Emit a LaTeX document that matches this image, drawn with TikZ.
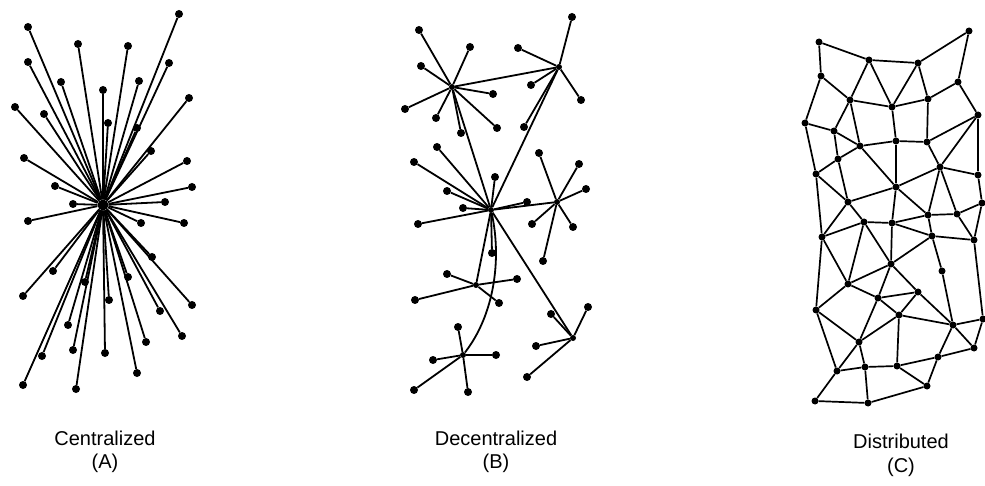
\documentclass[tikz,border=0pt]{standalone}
\usepackage{fontspec}
\setmainfont{Liberation Sans}
\begin{document}
\begin{tikzpicture}[x=1pt,y=-1pt,
  dot/.style={circle,fill=black,inner sep=0pt,minimum size=8pt},
  sdot/.style={circle,fill=black,inner sep=0pt,minimum size=7pt},
  hub/.style={circle,fill=black,inner sep=0pt,minimum size=6pt},
  edge/.style={line width=1.8pt,black},
  lab/.style={font=\fontsize{20}{22}\selectfont,inner sep=0pt}]
\useasboundingbox (0,0) rectangle (985,486);
% ---------- Panel A ----------
\node[circle,fill=black,inner sep=0pt,minimum size=11pt] (A0) at (103,205) {};
\foreach \n/\x/\y in {a1/179/14,a2/28/27,a3/78/44,a4/128/46,a5/28/62,a6/169/63,a7/61/82,a8/139/81,a9/103/90,a10/189/98,
 a11/15/107,a12/44/114,a13/108/123,a14/137/128,a15/151/151,a16/24/158,a17/187/161,a18/55/186,a19/192/187,a20/73/204,
 a21/165/202,a22/28/221,a23/141/223,a24/184/223,a25/152/257,a26/53/271,a27/128/277,a28/85/282,a29/23/296,a30/109/300,
 a31/160/311,a32/192/305,a33/68/325,a34/182/336,a35/73/350,a36/146/342,a37/105/353,a38/42/356,a39/137/373,a40/23/385,a41/76/389}
 {\node[dot] (\n) at (\x,\y) {}; \draw[edge] (A0) -- (\n);}
% ---------- Panel B ----------
\foreach \n/\x/\y in {H1/452/87,H2/559/67,H3/491/210,H4/557/202,H5/476/285,H6/573/338,H7/463/355}
 {\node[hub] (\n) at (\x,\y) {};}
\draw[edge] (H1) -- (H2);
\draw[edge] (H1) -- (H3);
\draw[edge] (H2) -- (H3);
\draw[edge] (H3) -- (H4);
\draw[edge] (H3) -- (H5);
\draw[edge] (H3) -- (H6);
\draw[edge] (H3) .. controls (502,260) and (494,315) .. (H7);
\foreach \h/\n/\x/\y in {H1/b11/419/30,H1/b12/470/47,H1/b13/421/66,H1/b14/493/94,H1/b15/405/109,H1/b16/436/118,H1/b17/497/128,H1/b18/461/133,
 H2/b21/572/17,H2/b22/518/48,H2/b23/531/85,H2/b24/581/100,H2/b25/524/127,
 H3/b31/437/147,H3/b32/414/162,H3/b33/495/177,H3/b34/447/191,H3/b35/463/208,H3/b36/418/224,H3/b37/492/253,H3/b38/527/202,
 H4/b41/539/153,H4/b42/579/164,H4/b43/586/189,H4/b44/532/224,H4/b45/573/227,H4/b46/543/261,
 H5/b51/447/274,H5/b52/517/279,H5/b53/415/300,H5/b54/499/303,
 H6/b61/588/307,H6/b62/551/314,H6/b63/536/346,H6/b64/527/377,
 H7/b71/458/327,H7/b72/433/360,H7/b73/496/355,H7/b74/414/390,H7/b75/468/392}
 {\node[dot] (\n) at (\x,\y) {}; \draw[edge] (\h) -- (\n);}
% ---------- Panel C ----------
\foreach \n/\x/\y in {c1/819/42,c2/969/31,c3/869/60,c4/918/63,c5/821/76,c6/958/82,c7/850/100,c8/928/99,c9/892/107,c10/978/115,
 c11/805/123,c12/834/131,c13/860/146,c14/896/141,c15/927/142,c16/838/159,c17/940/167,c18/816/174,c19/978/175,c20/896/187,
 c21/848/202,c22/982/203,c23/928/215,c24/957/214,c25/864/222,c26/892/223,c27/822/237,c28/932/236,c29/974/240,c30/891/264,
 c31/942/271,c32/848/284,c33/918/292,c34/878/298,c35/816/310,c36/899/315,c37/953/325,c38/859/342,c39/974/348,c40/938/357,
 c41/837/371,c42/865/367,c43/897/366,c44/927/386,c45/815/401,c46/868/403,c47/983/319}
 {\node[sdot] (\n) at (\x,\y) {};}
\foreach \a/\b in {c1/c3,c1/c5,c3/c4,c4/c2,c2/c6,c3/c7,c3/c9,c4/c9,c4/c8,c5/c7,c5/c11,c6/c8,c6/c10,c7/c9,c8/c9,c7/c12,c7/c13,
 c11/c12,c11/c18,c12/c13,c12/c16,c13/c14,c9/c14,c8/c15,c14/c15,c15/c10,c15/c17,c10/c17,c10/c19,c17/c19,c19/c22,c13/c16,c13/c20,
 c14/c20,c16/c18,c16/c21,c18/c21,c20/c21,c17/c20,c20/c23,c17/c23,c17/c24,c23/c24,c24/c22,c21/c25,c21/c27,c18/c27,c20/c26,c25/c26,
 c27/c25,c25/c30,c25/c32,c27/c32,c27/c35,c26/c30,c26/c23,c23/c28,c26/c28,c24/c29,c22/c29,c28/c29,c28/c30,c28/c31,c30/c32,c30/c34,
 c30/c33,c32/c34,c32/c35,c34/c33,c34/c36,c34/c38,c35/c38,c35/c41,c38/c41,c38/c42,c38/c36,c33/c36,c33/c37,c31/c37,c36/c37,c36/c43,
 c41/c42,c42/c43,c41/c45,c45/c46,c42/c46,c46/c44,c43/c44,c43/c40,c40/c44,c37/c40,c37/c39,c40/c39,c29/c47,c37/c47,c47/c39}
 {\draw[edge,line width=1.7pt] (\a) -- (\b);}
% ---------- Labels ----------
\node[lab] (tA) at (105,438) {Centralized};
\node[lab] (tA2) at (105,463) {(A)};
\node[lab] (tB) at (496,438) {Decentralized};
\node[lab] (tB2) at (496,463) {(B)};
\node[lab] (tC) at (901,441) {Distributed};
\node[lab] (tC2) at (901,467) {(C)};
\end{tikzpicture}
\end{document}
